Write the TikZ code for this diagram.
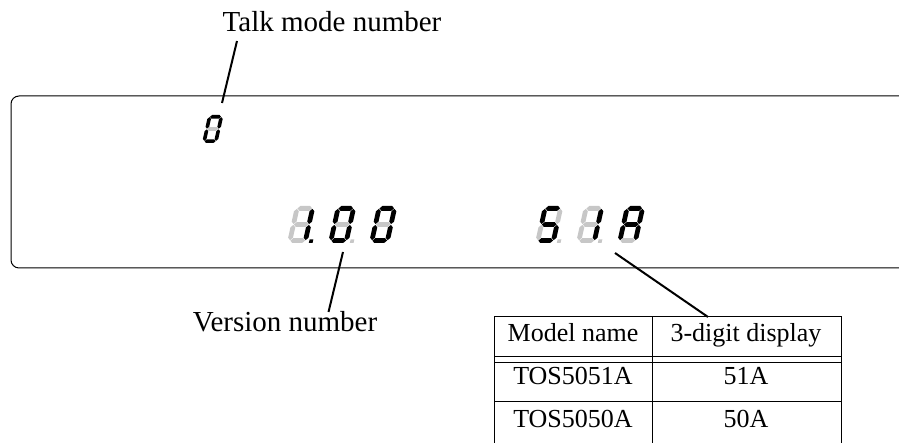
\documentclass[tikz,border=0pt]{standalone}
\usepackage{fontspec}
\setmainfont{Liberation Serif}
\usetikzlibrary{positioning}

\tikzset{
  segon/.style={fill=black},
  segoff/.style={fill=black!22},
  leader/.style={line width=2pt},
  frame/.style={line width=1pt},
  lbl/.style={font=\fontsize{29}{34}\selectfont, inner sep=0pt, anchor=base},
  cell/.style={font=\fontsize{26}{30}\selectfont, inner sep=0pt, anchor=base}
}

% one slanted seven-segment digit: #1 position, #2 scale, #3-#9 segments a-g
\newcommand{\sevenseg}[9]{%
  \begin{scope}[shift={#1}, scale=#2, xslant=0.22]
    \fill[#3] (0.77,9.35) -- (1.42,10) -- (4.08,10) -- (4.73,9.35) -- (4.08,8.7) -- (1.42,8.7) -- cycle;
    \fill[#4] (4.85,5.12) -- (5.5,5.77) -- (5.5,8.58) -- (4.85,9.23) -- (4.2,8.58) -- (4.2,5.77) -- cycle;
    \fill[#5] (4.85,0.77) -- (5.5,1.42) -- (5.5,4.23) -- (4.85,4.88) -- (4.2,4.23) -- (4.2,1.42) -- cycle;
    \fill[#6] (0.77,0.65) -- (1.42,1.3) -- (4.08,1.3) -- (4.73,0.65) -- (4.08,0) -- (1.42,0) -- cycle;
    \fill[#7] (0.65,0.77) -- (1.3,1.42) -- (1.3,4.23) -- (0.65,4.88) -- (0,4.23) -- (0,1.42) -- cycle;
    \fill[#8] (0.65,5.12) -- (1.3,5.77) -- (1.3,8.58) -- (0.65,9.23) -- (0,8.58) -- (0,5.77) -- cycle;
    \fill[#9] (0.77,5) -- (1.42,5.65) -- (4.08,5.65) -- (4.73,5) -- (4.08,4.35) -- (1.42,4.35) -- cycle;
  \end{scope}}
% decimal point after a digit
\newcommand{\dpoint}[3]{%
  \begin{scope}[shift={#1}, scale=#2, xslant=0.22]
    \fill[#3] (5.9,0) rectangle (6.9,1.0);
  \end{scope}}

\begin{document}
\begin{tikzpicture}[x=1pt, y=1pt]
  \useasboundingbox (0,0) rectangle (899,443);

  % display window, open to the right
  \draw[frame, rounded corners=8pt] (910,347) -- (11,347) -- (11,175) -- (910,175);

  % talk mode
  \sevenseg{(202,300)}{2.8}{segon}{segon}{segon}{segon}{segon}{segon}{segoff}
  \node[lbl] (talklabel) at (332,411) {Talk mode number};
  \coordinate (talkfoot) at (237,402);
  \coordinate (talktip) at (222,340);
  \draw[leader] (talkfoot) -- (talktip);

  % version 1.00
  \sevenseg{(287,200)}{3.7}{segoff}{segon}{segon}{segoff}{segoff}{segoff}{segoff}
  \dpoint{(287,200)}{3.7}{segon}
  \sevenseg{(328,200)}{3.7}{segon}{segon}{segon}{segon}{segon}{segon}{segoff}
  \dpoint{(328,200)}{3.7}{segoff}
  \sevenseg{(369,200)}{3.7}{segon}{segon}{segon}{segon}{segon}{segon}{segoff}
  \node[lbl] (verlabel) at (285,111) {Version number};
  \coordinate (vertip) at (343,191);
  \coordinate (verfoot) at (328.5,131);
  \draw[leader] (vertip) -- (verfoot);

  % model 51A
  \sevenseg{(535,200)}{3.7}{segon}{segoff}{segon}{segon}{segoff}{segon}{segon}
  \dpoint{(535,200)}{3.7}{segoff}
  \sevenseg{(576,200)}{3.7}{segoff}{segon}{segon}{segoff}{segoff}{segoff}{segoff}
  \dpoint{(576,200)}{3.7}{segoff}
  \sevenseg{(617,200)}{3.7}{segon}{segon}{segon}{segoff}{segon}{segon}{segon}

  % model table
  \coordinate (modeltip) at (615,190);
  \coordinate (tabletop) at (708,126);
  \draw[leader] (modeltip) -- (tabletop);
  \draw[frame] (494,0) -- (494,126) -- (841,126) -- (841,0);
  \draw[frame] (652,0) -- (652,126);
  \draw[frame] (494,86) -- (841,86);
  \draw[frame] (494,80) -- (841,80);
  \draw[frame] (494,41) -- (841,41);
  \node[cell] (hmodel) at (573,101) {Model name};
  \node[cell] (hdisp) at (746,101) {3-digit display};
  \node[cell] (m1) at (573,58) {TOS5051A};
  \node[cell] (d1) at (746,58) {51A};
  \node[cell] (m2) at (573,15) {TOS5050A};
  \node[cell] (d2) at (746,15) {50A};
\end{tikzpicture}
\end{document}
